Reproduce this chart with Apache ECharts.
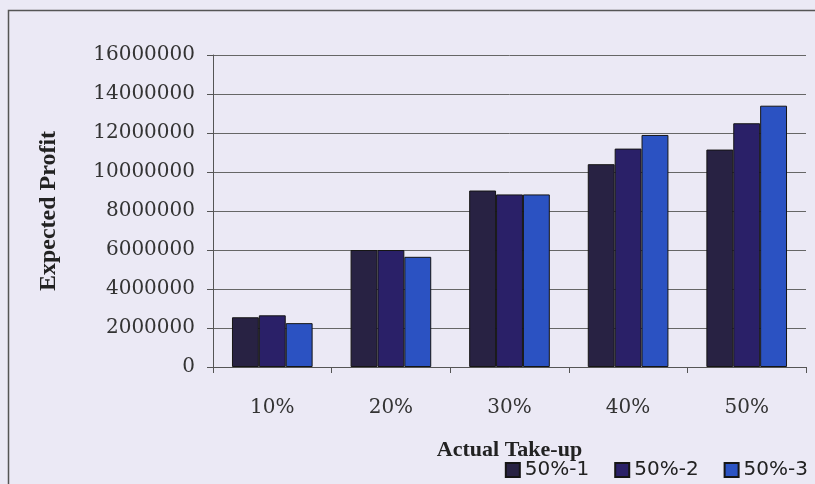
<!DOCTYPE html>
<html>
<head>
<meta charset="utf-8">
<title>Expected Profit</title>
<script src="https://cdn.jsdelivr.net/npm/echarts@6/dist/echarts.min.js"></script>
<style>
	html, body { margin: 0; padding: 0; background: #ebe9f5; }
	#chart { width: 815px; height: 484px; }
</style>
</head>
<body>
<div id="chart"></div>
<script>
// 数据
var categories = ['10%', '20%', '30%', '40%', '50%'];
var seriesNames = ['50%-1', '50%-2', '50%-3'];
var s1 = [2550000, 6000000, 9050000, 10400000, 11150000];
var s2 = [2650000, 6000000, 8850000, 11200000, 12500000];
var s3 = [2250000, 5650000, 8850000, 11900000, 13400000];
var colors = ['#282243', '#2a2068', '#2b52c2'];

function drawChart() {
	var myChart = echarts.init(document.getElementById('chart'));
	var serif = 'DejaVu Serif';
	var option = {
		backgroundColor: '#ebe9f5',
		animation: false,
		color: colors,
		graphic: [{
			type: 'rect',
			shape: { x: 8.5, y: 10.5, width: 900, height: 600 },
			style: { fill: 'none', stroke: '#555', lineWidth: 1.5 },
			silent: true
		}],
		grid: {
			left: 213,
			right: 9,
			top: 55,
			bottom: 117
		},
		legend: {
			right: 2,
			top: 455,
			icon: 'rect',
			itemWidth: 14,
			itemHeight: 14,
			itemGap: 25,
			textStyle: { color: '#222', fontSize: 20, fontFamily: 'DejaVu Sans' },
			data: seriesNames
		},
		xAxis: {
			type: 'category',
			data: categories,
			name: 'Actual Take-up',
			nameLocation: 'middle',
			nameGap: 72,
			nameTextStyle: { color: '#222', fontSize: 22, fontWeight: 'bold', fontFamily: 'Liberation Serif' },
			axisLine: { lineStyle: { color: '#555' } },
			axisTick: { show: true, length: 6, lineStyle: { color: '#555' } },
			axisLabel: { color: '#333', fontSize: 20, fontFamily: serif, margin: 31 }
		},
		yAxis: {
			type: 'value',
			min: 0,
			max: 16000000,
			interval: 2000000,
			name: 'Expected Profit',
			nameLocation: 'middle',
			nameGap: 152,
			nameTextStyle: { color: '#222', fontSize: 24, fontWeight: 'bold', fontFamily: 'Liberation Serif' },
			axisLine: { show: true, lineStyle: { color: '#555' } },
			axisTick: { show: true, length: 6, lineStyle: { color: '#555' } },
			splitLine: { lineStyle: { color: '#666', width: 1 } },
			axisLabel: {
				color: '#333', fontSize: 20, fontFamily: serif, margin: 18,
				formatter: function(v) { return String(v); }
			}
		},
		series: [
			{ name: seriesNames[0], type: 'bar', data: s1, barGap: '0%', barCategoryGap: '32%',
				itemStyle: { borderColor: '#151515', borderWidth: 1 } },
			{ name: seriesNames[1], type: 'bar', data: s2, barGap: '0%', barCategoryGap: '32%',
				itemStyle: { borderColor: '#151515', borderWidth: 1 } },
			{ name: seriesNames[2], type: 'bar', data: s3, barGap: '0%', barCategoryGap: '32%',
				itemStyle: { borderColor: '#151515', borderWidth: 1 } }
		]
	};
	myChart.setOption(option);
}
drawChart();
</script>
</body>
</html>
